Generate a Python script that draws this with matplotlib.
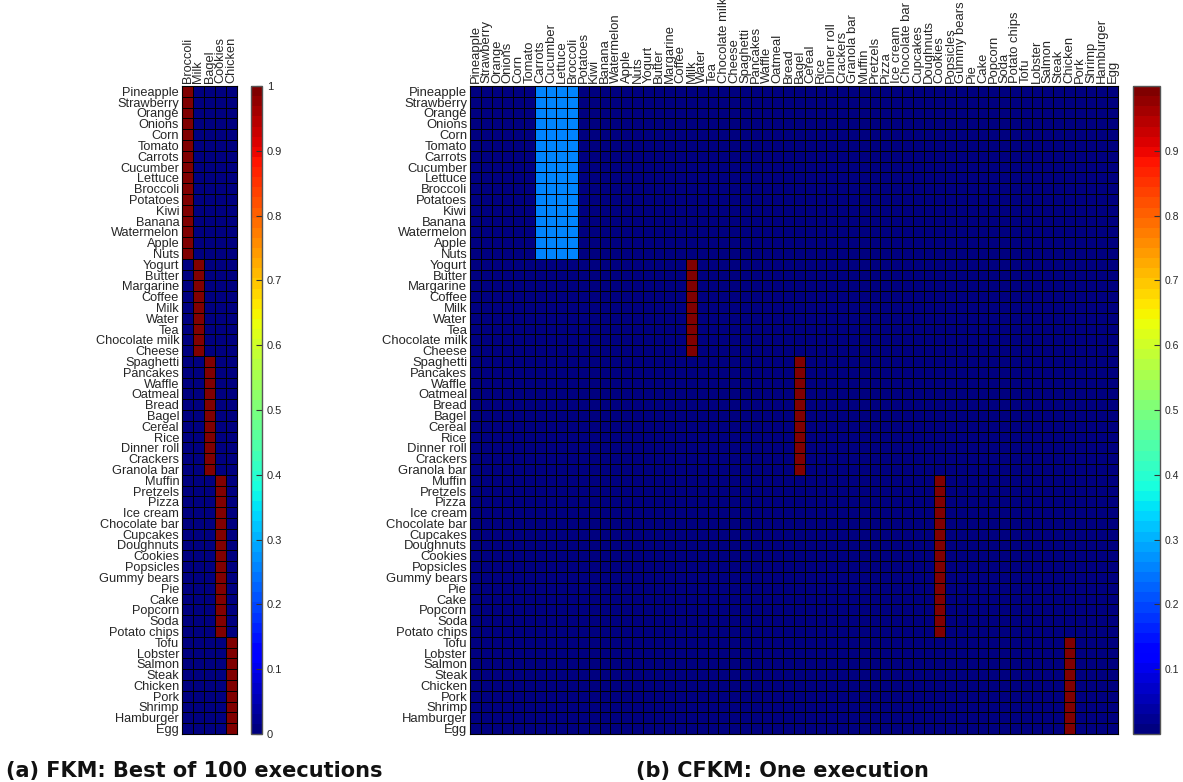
import numpy as np
import matplotlib.pyplot as plt
from matplotlib.colors import Normalize

# foods, in the order used for rows (and for columns of the CFKM matrix)
foods = ['Pineapple', 'Strawberry', 'Orange', 'Onions', 'Corn', 'Tomato', 'Carrots',
         'Cucumber', 'Lettuce', 'Broccoli', 'Potatoes', 'Kiwi', 'Banana', 'Watermelon',
         'Apple', 'Nuts', 'Yogurt', 'Butter', 'Margarine', 'Coffee', 'Milk', 'Water',
         'Tea', 'Chocolate milk', 'Cheese', 'Spaghetti', 'Pancakes', 'Waffle', 'Oatmeal',
         'Bread', 'Bagel', 'Cereal', 'Rice', 'Dinner roll', 'Crackers', 'Granola bar',
         'Muffin', 'Pretzels', 'Pizza', 'Ice cream', 'Chocolate bar', 'Cupcakes',
         'Doughnuts', 'Cookies', 'Popsicles', 'Gummy bears', 'Pie', 'Cake', 'Popcorn',
         'Soda', 'Potato chips', 'Tofu', 'Lobster', 'Salmon', 'Steak', 'Chicken', 'Pork',
         'Shrimp', 'Hamburger', 'Egg']

# number of foods in each cluster (consecutive rows)
group_sizes = [16, 9, 11, 15, 9]

# FKM prototypes (one column per cluster)
fkm_prototypes = ['Broccoli', 'Milk', 'Bagel', 'Cookies', 'Chicken']

# CFKM: prototype foods of each cluster and their membership weight
cfkm_prototypes = [['Carrots', 'Cucumber', 'Lettuce', 'Broccoli'],
                   ['Milk'], ['Bagel'], ['Cookies'], ['Chicken']]
cfkm_weights = [0.25, 1.0, 1.0, 1.0, 1.0]

n = len(foods)
fkm = np.zeros((n, len(fkm_prototypes)))
cfkm = np.zeros((n, n))
start = 0
for g, size in enumerate(group_sizes):
    rows = slice(start, start + size)
    fkm[rows, g] = 1.0
    for name in cfkm_prototypes[g]:
        cfkm[rows, foods.index(name)] = cfkm_weights[g]
    start += size

cmap = plt.get_cmap('jet', 64)
txt_col = '#262626'

fig = plt.figure(figsize=(11.83, 7.82), dpi=100)
y0, h = 1 - 734 / 782, (734 - 86) / 782


def heat(ax, M, collabels, fs):
    ax.pcolormesh(M, cmap=cmap, norm=Normalize(0, 1), edgecolors='k', linewidth=0.7)
    ax.set_xlim(0, M.shape[1])
    ax.set_ylim(M.shape[0], 0)
    ax.set_yticks(np.arange(n) + 0.5)
    ax.set_yticklabels(foods, fontsize=fs, color=txt_col, family='Liberation Sans')
    ax.xaxis.tick_top()
    ax.set_xticks(np.arange(len(collabels)) + 0.5)
    ax.set_xticklabels(collabels, rotation=90, fontsize=fs, color=txt_col,
                       family='Liberation Sans')
    ax.tick_params(length=0, pad=2)
    for s in ax.spines.values():
        s.set_linewidth(0.8)


def cbar(cax, ticks, fs):
    sm = plt.cm.ScalarMappable(norm=Normalize(0, 1), cmap=cmap)
    cb = fig.colorbar(sm, cax=cax, ticks=ticks)
    cb.ax.tick_params(direction='in', length=4, width=0.8, labelsize=fs,
                      labelcolor=txt_col, color='#333333')
    for lab in cb.ax.get_yticklabels():
        lab.set_family('Liberation Sans')
    cb.outline.set_edgecolor('#555555')
    cb.outline.set_linewidth(1)
    return cb


ax1 = fig.add_axes([182 / 1183, y0, 55 / 1183, h])
heat(ax1, fkm, fkm_prototypes, 9.2)
cax1 = fig.add_axes([251 / 1183, y0, 11 / 1183, h])
cb1 = cbar(cax1, np.round(np.arange(0, 1.01, 0.1), 1), 8)
cb1.ax.set_yticklabels(['0'] + ['%.1f' % t for t in np.arange(0.1, 0.95, 0.1)] + ['1'])

ax2 = fig.add_axes([470 / 1183, y0, 648 / 1183, h])
heat(ax2, cfkm, foods, 9.4)
cax2 = fig.add_axes([1133 / 1183, y0, 27 / 1183, h])
cbar(cax2, np.round(np.arange(0.1, 0.95, 0.1), 1), 7.5)

fig.text(6 / 1183, 1 - 777 / 782, '(a) FKM: Best of 100 executions', fontsize=15,
         fontweight='bold', color='#111111')
fig.text(636 / 1183, 1 - 777 / 782, '(b) CFKM: One execution', fontsize=15,
         fontweight='bold', color='#111111')

fig.savefig('out.png', dpi=100)
